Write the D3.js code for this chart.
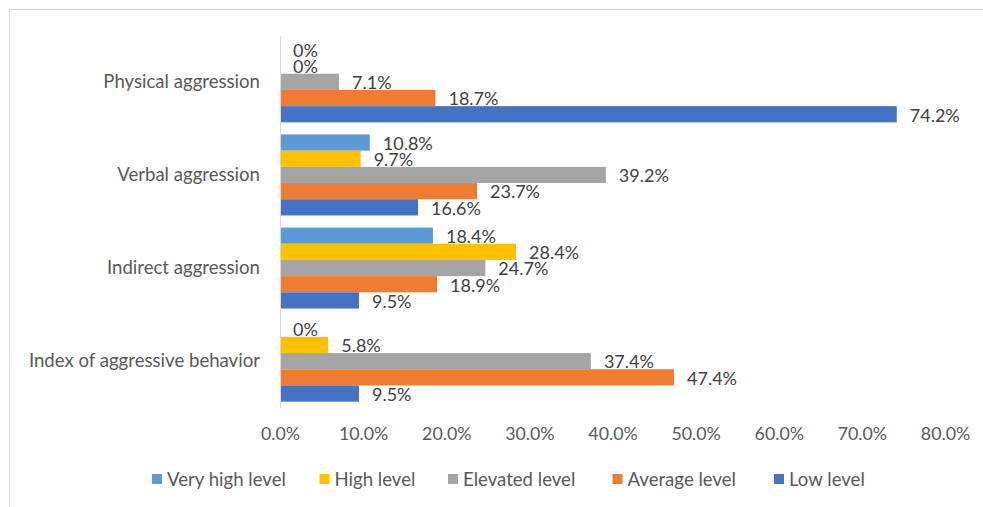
<!DOCTYPE html>
<html>
<head>
<meta charset="utf-8">
<script src="https://cdn.jsdelivr.net/npm/d3@7"></script>
<style>
  html, body { margin: 0; padding: 0; background: #fff; }
  svg text { font-family: Lato, "Open Sans", sans-serif; }
</style>
</head>
<body>
<svg id="chart" width="983" height="507"></svg>
<script>
// ---- data ----
const categories = ["Physical aggression", "Verbal aggression", "Indirect aggression", "Index of aggressive behavior"];
const seriesNames = ["Very high level", "High level", "Elevated level", "Average level", "Low level"];
const veryHigh = [0, 10.8, 18.4, 0];
const high = [0, 9.7, 28.4, 5.8];
const elevated = [7.1, 39.2, 24.7, 37.4];
const average = [18.7, 23.7, 18.9, 47.4];
const low = [74.2, 16.6, 9.5, 9.5];
const tickValues = [0, 10, 20, 30, 40, 50, 60, 70, 80];
const seriesColors = ["#5B9BD5", "#FFC000", "#A5A5A5", "#ED7D31", "#4472C4"];

const seriesValues = [veryHigh, high, elevated, average, low];

const svg = d3.select("#chart");

// chart frame
svg.append("rect")
  .attr("x", 9.5).attr("y", 9.5)
  .attr("width", 1000).attr("height", 600)
  .attr("fill", "#fff").attr("stroke", "#d9d9d9").attr("stroke-width", 1);

const x = d3.scaleLinear().domain([0, 80]).range([280, 945]);
const y = d3.scaleBand().domain(categories).range([35.3, 407.7])
  .paddingInner(0.13).paddingOuter(0.065);
const ySub = d3.scaleBand().domain(seriesNames).range([0, y.bandwidth()]);

const fmt = v => v === 0 ? "0%" : v.toFixed(1) + "%";

// bars
const groups = svg.append("g").selectAll("g")
  .data(categories)
  .join("g")
  .attr("transform", d => `translate(0,${y(d)})`);

groups.each(function(cat, ci) {
  const g = d3.select(this);
  const rows = seriesNames.map((s, si) => ({ s, si, v: seriesValues[si][ci] }));
  g.selectAll("rect").data(rows).join("rect")
    .attr("x", x(0))
    .attr("y", d => ySub(d.s))
    .attr("width", d => x(d.v) - x(0))
    .attr("height", ySub.bandwidth())
    .attr("fill", d => seriesColors[d.si]);
  g.selectAll("text").data(rows).join("text")
    .attr("x", d => x(d.v) + 13)
    .attr("y", d => ySub(d.s) + ySub.bandwidth() / 2 + 1)
    .attr("dy", "0.35em")
    .attr("font-size", 18)
    .attr("fill", "#404040")
    .text(d => fmt(d.v));
});

// y axis
const yAxis = d3.axisLeft(y).tickSize(0).tickPadding(20);
const yg = svg.append("g").attr("transform", `translate(${x(0)},0)`).call(yAxis);
yg.select(".domain").attr("stroke", "#d9d9d9");
yg.selectAll("text").attr("font-size", 18.6).attr("fill", "#595959")
  .attr("font-family", "Lato, sans-serif");

// x axis (labels only)
const xAxis = d3.axisBottom(x).tickValues(tickValues).tickSize(0).tickPadding(0)
  .tickFormat(d => d.toFixed(1) + "%");
const xg = svg.append("g").attr("transform", `translate(0,0)`).call(xAxis);
xg.select(".domain").remove();
xg.selectAll("text").attr("y", 434).attr("dy", "0.35em")
  .attr("font-size", 17.8).attr("fill", "#595959")
  .attr("font-family", "Lato, sans-serif");

// legend
const legendX = [152, 319.5, 448, 612.5, 774];
const lg = svg.append("g").selectAll("g").data(seriesNames).join("g")
  .attr("transform", (d, i) => `translate(${legendX[i]},474)`);
lg.append("rect").attr("width", 10).attr("height", 10)
  .attr("fill", (d, i) => seriesColors[i]);
lg.append("text").attr("x", 15).attr("y", 5).attr("dy", "0.35em")
  .attr("font-size", 18.6).attr("fill", "#595959").text(d => d);
</script>
</body>
</html>
